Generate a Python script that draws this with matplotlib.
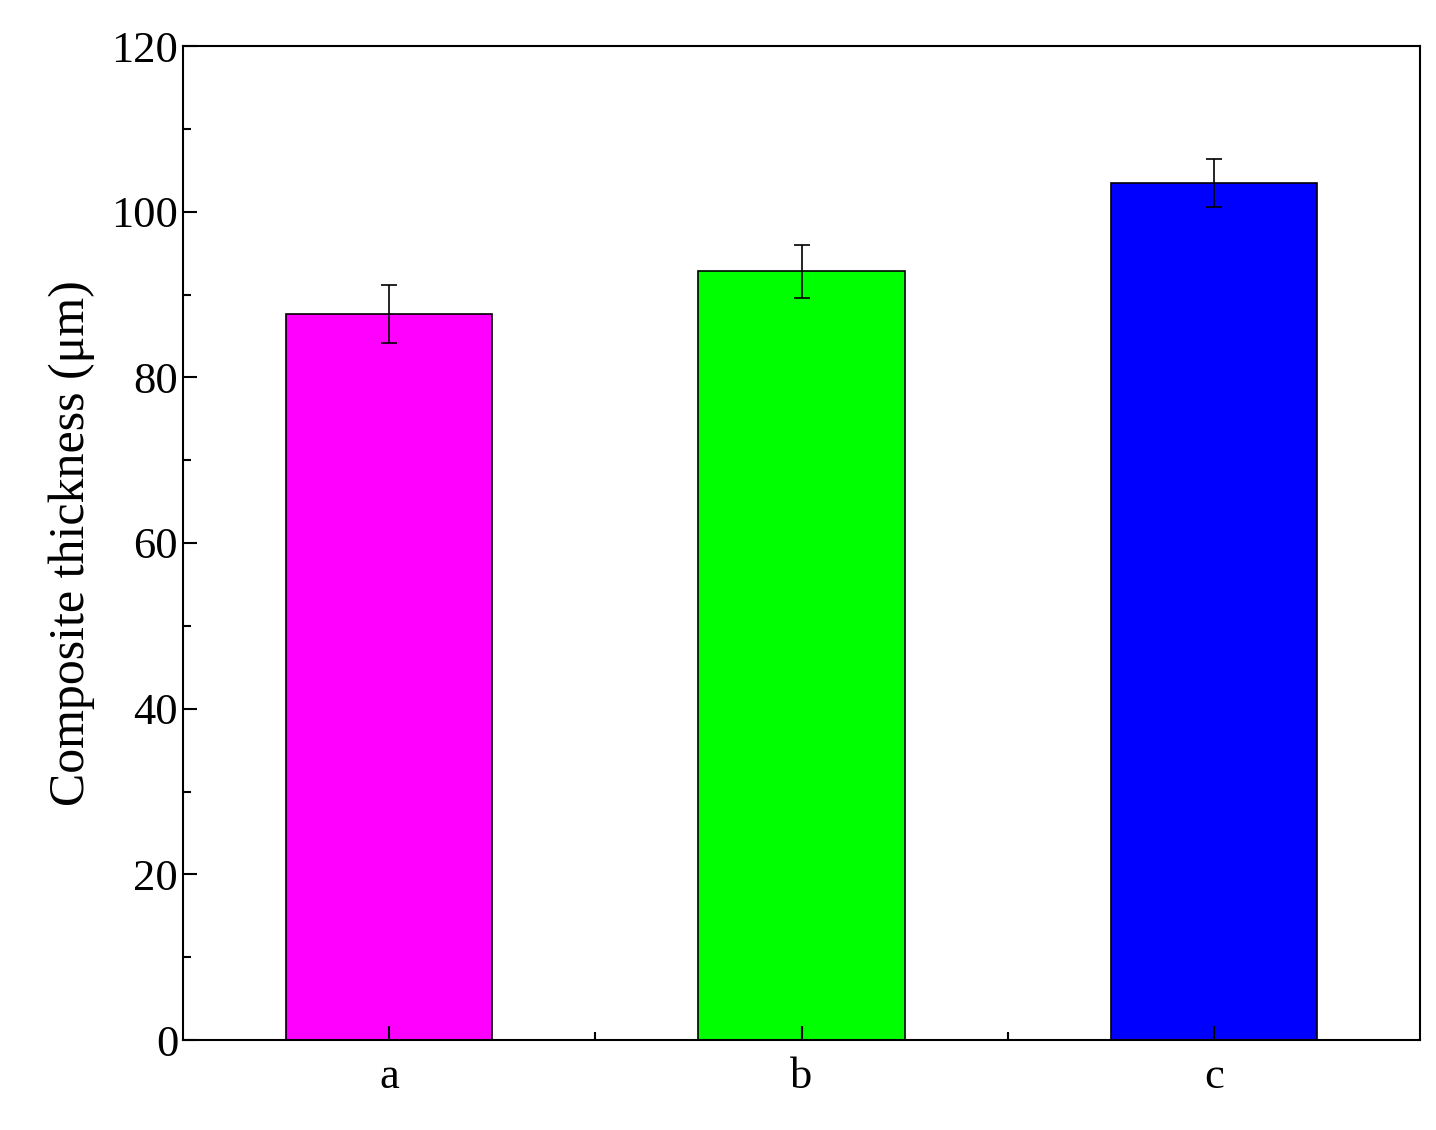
import matplotlib
matplotlib.use("Agg")
import matplotlib.pyplot as plt
from matplotlib.ticker import MultipleLocator, FixedLocator

categories = ["a", "b", "c"]
values = [87.6, 92.8, 103.5]
errors = [3.5, 3.2, 2.9]
colors = ["#ff00ff", "#00ff00", "#0000ff"]

plt.rcParams['font.family'] = ['Liberation Serif', 'DejaVu Serif']
fig = plt.figure(figsize=(14.36, 11.3), dpi=100)
ax = fig.add_axes([183/1436, 1-1040/1130, (1420-183)/1436, (1040-46)/1130])
x = list(range(len(categories)))
ax.bar(x, values, width=0.5, color=colors, edgecolor="black", linewidth=1.2,
       yerr=errors, error_kw=dict(ecolor="black", elinewidth=1.2, capsize=6, capthick=1.2))
ax.set_xlim(-0.5, 2.5)
ax.set_ylim(0, 120)
ax.set_xticks(x)
ax.set_xticklabels(categories)
ax.xaxis.set_minor_locator(FixedLocator([0.5, 1.5]))
ax.yaxis.set_major_locator(MultipleLocator(20))
ax.yaxis.set_minor_locator(MultipleLocator(10))
ax.tick_params(which="both", direction="in", labelsize=32, width=1.5)
ax.tick_params(which="major", length=10)
ax.tick_params(which="minor", length=6)
ax.tick_params(axis="x", pad=12)
ax.set_ylabel("Composite thickness (μm)", fontsize=36, labelpad=12)
for s in ax.spines.values():
    s.set_linewidth(1.5)
fig.savefig("out.png", dpi=100)
